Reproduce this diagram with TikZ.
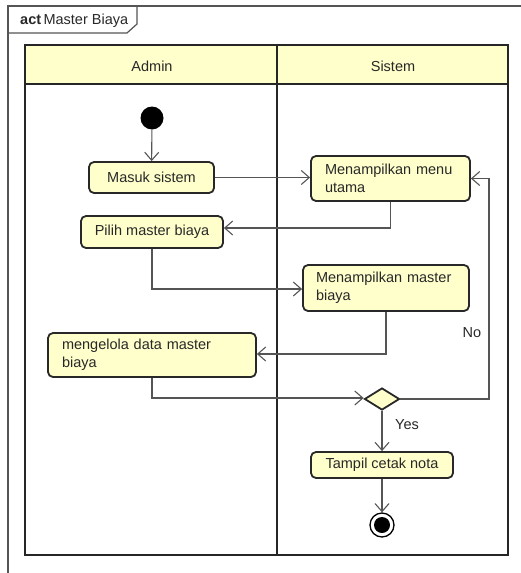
\documentclass[tikz,border=0pt]{standalone}
\usepackage{fontspec}
\setmainfont{Liberation Sans}
\usetikzlibrary{arrows.meta,shapes.geometric}
\definecolor{actfill}{RGB}{255,255,204}
\definecolor{ink}{RGB}{40,40,40}
\definecolor{wire}{RGB}{85,85,85}
\begin{document}
\begin{tikzpicture}[x=1pt,y=-1pt,
  every node/.style={text=ink,font=\fontsize{14.5}{18}\selectfont},
  action/.style={draw=ink,line width=1.8pt,fill=actfill,rounded corners=5pt,inner sep=0pt},
  multi/.style={action,align=left},
  flow/.style={draw=wire,line width=1.1pt,-{Straight Barb[length=8pt,width=14pt]}},
  lane/.style={draw=black!85,line width=2.4pt},
  guard/.style={inner sep=0pt}]
\useasboundingbox (0,0) rectangle (521,573);
\fill[white] (0,0) rectangle (521,573);

% activity frame with its name tab
\draw[draw=wire,line width=1.2pt] (8,573) -- (8,6) -- (521,6);
\draw[draw=wire,line width=1.2pt] (8,33) -- (127,33) -- (137,24) -- (137,6);
\node[anchor=west,inner sep=0pt] (title) at (20,21) {\textbf{act}\,Master Biaya};

% swimlanes
\fill[actfill] (25,45) rectangle (508,84);
\draw[lane] (25,45) rectangle (508,555);
\draw[lane] (25,84) -- (508,84);
\draw[lane] (277,45) -- (277,555);
\node (laneA) at (152,66) {Admin};
\node (laneS) at (393,66) {Sistem};

% start and end
\node[circle,fill=black,minimum size=23pt,inner sep=0pt] (start) at (152,118) {};
\node[circle,draw=black,line width=1.3pt,fill=white,minimum size=24pt,inner sep=0pt] (end) at (382,525) {};
\node[circle,fill=black,minimum size=16pt,inner sep=0pt] (endcore) at (382,525) {};

% actions
\node[action,minimum width=125pt,minimum height=31pt] (masuk) at (151.5,177.5) {Masuk sistem};
\node[action,minimum width=142pt,minimum height=32pt] (pilih) at (152,232) {Pilih master biaya};
\node[multi,minimum width=159pt,minimum height=45pt,text width=131pt] (menu) at (390.5,178.5) {Menampilkan menu\\utama};
\node[multi,minimum width=166pt,minimum height=46pt,text width=140pt] (mmaster) at (386,288) {Menampilkan master\\biaya};
\node[multi,minimum width=208pt,minimum height=44pt,text width=180pt] (kelola) at (152,355) {mengelola data master\\biaya};
\node[diamond,draw=ink,line width=1.8pt,fill=actfill,minimum width=35pt,minimum height=22pt,inner sep=0pt] (dec) at (382,399) {};
\node[action,minimum width=142pt,minimum height=26pt] (cetak) at (382,465) {Tampil cetak nota};

% control flow
\coordinate (noX) at (489,0);
\draw[flow] (start) -- (masuk);
\draw[flow] (masuk) -- (menu.west |- masuk);
\draw[flow] (menu.south) |- ([yshift=4pt]pilih.east);
\draw[flow] (pilih.south) |- ([yshift=-1pt]mmaster.west);
\draw[flow] (mmaster.south) |- ([yshift=1pt]kelola.east);
\draw[flow] (kelola.south) |- ([yshift=1pt]dec.west);
\draw[flow] (dec.east) -| (noX |- menu.east) -- (menu.east);
\draw[flow] (dec.south) -- (cetak.north);
\draw[flow] (cetak.south) -- (end.north);

% guards
\node[guard] (no) at (472,333) {No};
\node[guard] (yes) at (407,425) {Yes};
\end{tikzpicture}
\end{document}
